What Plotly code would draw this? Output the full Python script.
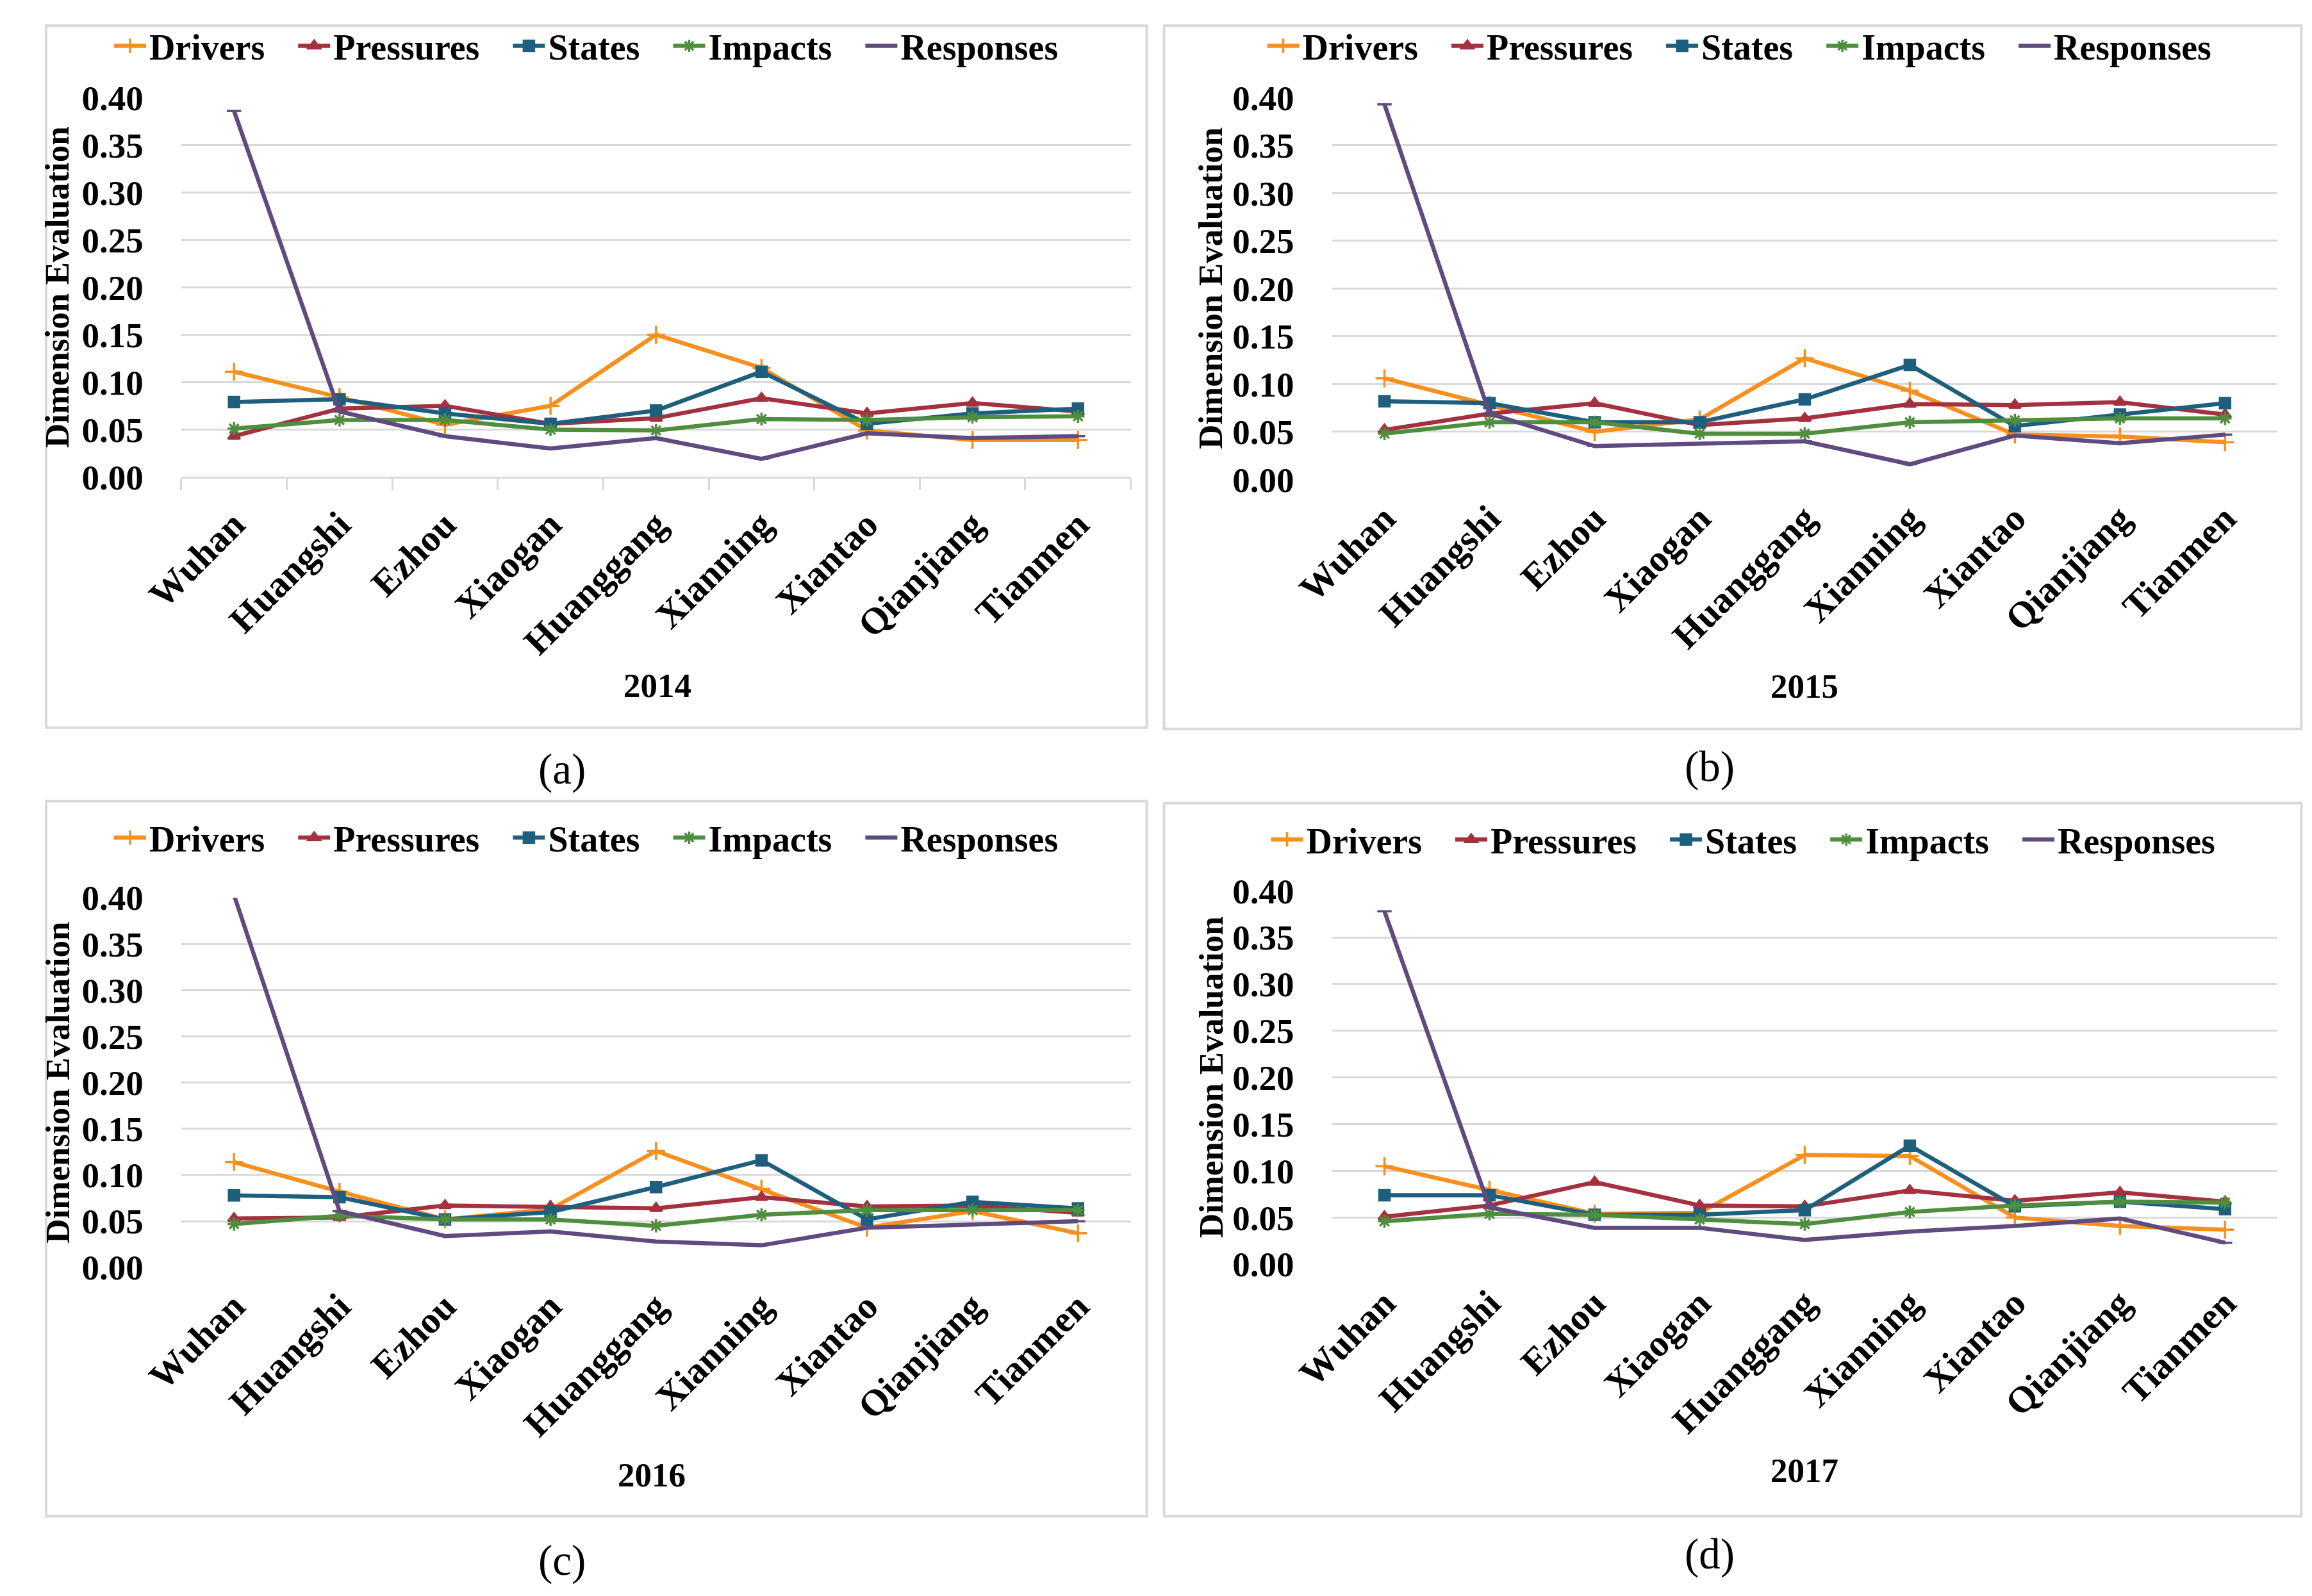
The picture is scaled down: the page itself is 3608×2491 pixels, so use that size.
import plotly.graph_objects as go

W, H = 3608, 2491

cities = ["Wuhan", "Huangshi", "Ezhou", "Xiaogan", "Huanggang", "Xianning", "Xiantao", "Qianjiang", "Tianmen"]
series_names = ["Drivers", "Pressures", "States", "Impacts", "Responses"]
years = ["2014", "2015", "2016", "2017"]
panel_labels = ["(a)", "(b)", "(c)", "(d)"]

# 2014
drivers_2014   = [0.111, 0.084, 0.055, 0.075, 0.150, 0.115, 0.049, 0.039, 0.039]
pressures_2014 = [0.043, 0.072, 0.075, 0.056, 0.062, 0.083, 0.067, 0.078, 0.069]
states_2014    = [0.079, 0.082, 0.067, 0.056, 0.070, 0.111, 0.056, 0.067, 0.072]
impacts_2014   = [0.051, 0.060, 0.060, 0.050, 0.049, 0.061, 0.060, 0.063, 0.064]
responses_2014 = [0.386, 0.069, 0.043, 0.030, 0.041, 0.019, 0.046, 0.041, 0.043]
# 2015
drivers_2015   = [0.106, 0.078, 0.050, 0.063, 0.127, 0.093, 0.047, 0.045, 0.039]
pressures_2015 = [0.052, 0.069, 0.080, 0.057, 0.064, 0.079, 0.078, 0.081, 0.068]
states_2015    = [0.082, 0.080, 0.060, 0.060, 0.084, 0.120, 0.056, 0.068, 0.080]
impacts_2015   = [0.048, 0.060, 0.060, 0.048, 0.048, 0.060, 0.062, 0.064, 0.064]
responses_2015 = [0.393, 0.069, 0.035, 0.037, 0.040, 0.016, 0.046, 0.038, 0.047]
# 2016
drivers_2016   = [0.114, 0.082, 0.052, 0.063, 0.126, 0.085, 0.043, 0.061, 0.037]
pressures_2016 = [0.053, 0.054, 0.067, 0.066, 0.064, 0.076, 0.066, 0.067, 0.059]
states_2016    = [0.078, 0.076, 0.052, 0.060, 0.087, 0.116, 0.052, 0.071, 0.064]
impacts_2016   = [0.047, 0.056, 0.052, 0.052, 0.045, 0.057, 0.062, 0.062, 0.062]
responses_2016 = [0.403, 0.061, 0.034, 0.039, 0.028, 0.024, 0.043, 0.046, 0.050]
# 2017
drivers_2017   = [0.105, 0.080, 0.054, 0.055, 0.117, 0.116, 0.050, 0.041, 0.037]
pressures_2017 = [0.051, 0.063, 0.088, 0.063, 0.062, 0.079, 0.068, 0.077, 0.067]
states_2017    = [0.074, 0.074, 0.053, 0.053, 0.058, 0.127, 0.062, 0.067, 0.059]
impacts_2017   = [0.046, 0.054, 0.053, 0.048, 0.043, 0.056, 0.063, 0.067, 0.066]
responses_2017 = [0.378, 0.061, 0.039, 0.039, 0.026, 0.035, 0.041, 0.049, 0.023]

data = [
    [drivers_2014, pressures_2014, states_2014, impacts_2014, responses_2014],
    [drivers_2015, pressures_2015, states_2015, impacts_2015, responses_2015],
    [drivers_2016, pressures_2016, states_2016, impacts_2016, responses_2016],
    [drivers_2017, pressures_2017, states_2017, impacts_2017, responses_2017],
]

colors = ["#F7901E", "#A3313F", "#1F5F7E", "#4F8E3E", "#5F4B7F"]
symbols = ["cross-thin-open", "triangle-up", "square", "asterisk-open", "line-ew-open"]
msizes = [20, 16, 16, 17, 16]

FONT = "Liberation Serif"

# target positions (reference pixels) -> figure pixels (page placement compensation)
def fx(x):
    return max(2.0, 1.0173 * x - 71.3)

def fy(y):
    return max(2.0, 1.0233 * y - 41.3)

def px_x(x):
    return fx(x) / W

def px_y(y):
    return 1 - fy(y) / H

FS = 1.02  # font scale

# plot areas in reference pixels (left, right, top, bottom)
areas = [
    (283, 1765, 155, 748),
    (2079, 3555, 155, 752),
    (283, 1765, 1406, 1984),
    (2079, 3555, 1395, 1979),
]
boxes = [
    (21, 1790, 17, 1140),
    (1817, 3592, 17, 1142),
    (21, 1790, 1255, 2373),
    (1817, 3592, 1258, 2373),
]
legend_pos = [(173, 74), (1973, 74), (173, 1312), (1979, 1315)]
ytitle_x = [90, 1890, 90, 1890]
xtitle_pos = [(1026, 1074), (2817, 1075), (1017, 2308), (2817, 2301)]
plabel_pos = [(877, 1205), (2669, 1201), (877, 2442), (2669, 2432)]

fig = go.Figure()
layout = dict(
    width=W, height=H,
    margin=dict(l=0, r=0, t=0, b=0),
    paper_bgcolor="white", plot_bgcolor="white",
    font=dict(family=FONT, color="black"),
    showlegend=True,
    annotations=[], shapes=[],
)

PAD = "\u00a0\u00a0\u00a0"

for p in range(4):
    sfx = "" if p == 0 else str(p + 1)
    leg = "legend" if p == 0 else f"legend{p+1}"
    for s in range(5):
        fig.add_trace(go.Scatter(
            x=cities, y=data[p][s], name=series_names[s] + (PAD if s < 4 else ""),
            mode="lines+markers",
            line=dict(color=colors[s], width=6.5),
            marker=dict(symbol=symbols[s], size=msizes[s], color=colors[s],
                        line=dict(color=colors[s], width=3.5)),
            xaxis="x" + sfx, yaxis="y" + sfx,
            legend=leg, cliponaxis=False,
        ))
    l, r, t, b = areas[p]
    layout["xaxis" + sfx] = dict(
        domain=[px_x(l), px_x(r)], anchor="y" + sfx,
        type="category", range=[-0.5, 8.5],
        tickangle=-45, tickfont=dict(family=FONT, size=round(57 * FS), color="black", weight="bold"),
        showgrid=False, showline=(p == 0), linecolor="#D9D9D9", linewidth=3,
        ticks="outside" if p == 0 else "", tickson="boundaries", ticklen=18, tickcolor="#D9D9D9", tickwidth=3,
        ticklabelstandoff=14,
    )
    layout["yaxis" + sfx] = dict(
        domain=[px_y(b), px_y(t)], anchor="x" + sfx,
        range=[0, 0.4], dtick=0.05, tickformat=".2f",
        showgrid=True, gridcolor="#D9D9D9", gridwidth=3,
        zeroline=False, showline=False,
        tickfont=dict(family=FONT, size=round(54 * FS), color="black", weight="bold"),
        ticklabelstandoff=58,
    )
    lx, ly = legend_pos[p]
    layout[leg] = dict(
        orientation="h", x=px_x(lx), y=px_y(ly), xanchor="left", yanchor="middle",
        font=dict(family=FONT, size=round(55 * FS), color="black", weight="bold"),
        bgcolor="rgba(0,0,0,0)", itemwidth=50, tracegroupgap=0,
    )
    layout["annotations"].append(dict(
        text="Dimension Evaluation", textangle=-90, showarrow=False,
        x=px_x(ytitle_x[p]), y=(px_y(t) + px_y(b)) / 2, xref="paper", yref="paper",
        xanchor="center", yanchor="middle",
        font=dict(family=FONT, size=round(52 * FS), color="black", weight="bold"),
    ))
    xx, xy = xtitle_pos[p]
    layout["annotations"].append(dict(
        text=years[p], showarrow=False, x=px_x(xx), y=px_y(xy), xref="paper", yref="paper",
        xanchor="center", yanchor="middle",
        font=dict(family=FONT, size=round(52 * FS), color="black", weight="bold"),
    ))
    plx, ply = plabel_pos[p]
    layout["annotations"].append(dict(
        text=panel_labels[p], showarrow=False, x=px_x(plx), y=px_y(ply), xref="paper", yref="paper",
        xanchor="center", yanchor="middle",
        font=dict(family=FONT, size=round(66 * FS), color="black"),
    ))
    bx0, bx1, by0, by1 = boxes[p]
    layout["shapes"].append(dict(
        type="rect", xref="paper", yref="paper",
        x0=px_x(bx0), x1=px_x(bx1), y0=px_y(by1), y1=px_y(by0),
        line=dict(color="#D9D9D9", width=4), fillcolor="rgba(0,0,0,0)", layer="below",
    ))

fig.update_layout(**layout)
fig.write_html("out.html")
